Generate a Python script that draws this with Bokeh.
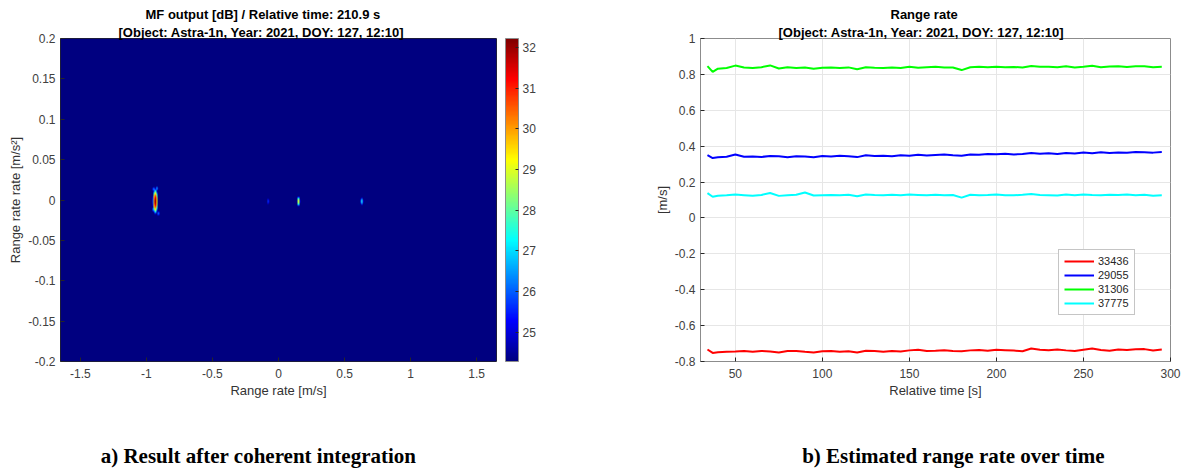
import numpy as np
from bokeh.plotting import figure
from bokeh.models import (LinearColorMapper, ColorBar, FixedTicker, Title, Legend,
                          LegendItem, CustomJSTickFormatter, Range1d)
from bokeh.core.properties import value
from bokeh.layouts import row, column
from bokeh.embed import file_html
from bokeh.resources import INLINE

# ---------------- data: left panel (matched-filter output peaks) ----------------
bg_db = 24.3
peak_rr = [-0.935, -0.947, -0.923, -0.950, -0.912, -0.080, 0.150, 0.630]      # range rate [m/s]
peak_rrr = [-0.002, 0.013, 0.014, -0.012, -0.017, -0.002, -0.002, -0.002]    # range rate rate [m/s^2]
peak_db = [32.2, 26.6, 26.8, 26.4, 26.3, 25.8, 29.3, 27.6]
peak_wx = [0.020, 0.009, 0.009, 0.009, 0.009, 0.008, 0.012, 0.010]
peak_wy = [0.0165, 0.0031, 0.0031, 0.0031, 0.0031, 0.004, 0.0065, 0.005]
cb_ticks = [25, 26, 27, 28, 29, 30, 31, 32]
x1_ticks = [-1.5, -1, -0.5, 0, 0.5, 1, 1.5]
y1_ticks = [-0.2, -0.15, -0.1, -0.05, 0, 0.05, 0.1, 0.15, 0.2]

# ---------------- data: right panel (estimated range rate) ----------------
t = [34, 37, 40, 45, 50, 55, 60, 65, 70, 75, 80, 85, 90, 95, 100, 105, 110, 115, 120, 125,
     130, 135, 140, 145, 150, 155, 160, 165, 170, 175, 180, 185, 190, 195, 200, 205, 210,
     215, 220, 225, 230, 235, 240, 245, 250, 255, 260, 265, 270, 275, 280, 285, 290, 295]
rr_33436 = [-0.733, -0.752, -0.748, -0.745, -0.744, -0.742, -0.746, -0.741, -0.744, -0.750,
            -0.742, -0.741, -0.746, -0.750, -0.743, -0.742, -0.745, -0.743, -0.750, -0.740,
            -0.742, -0.745, -0.741, -0.744, -0.738, -0.735, -0.742, -0.740, -0.737, -0.741,
            -0.743, -0.738, -0.736, -0.740, -0.735, -0.737, -0.739, -0.743, -0.728, -0.734,
            -0.737, -0.733, -0.738, -0.742, -0.735, -0.728, -0.736, -0.740, -0.733, -0.736,
            -0.732, -0.731, -0.739, -0.733]
rr_29055 = [0.350, 0.334, 0.338, 0.341, 0.354, 0.341, 0.343, 0.340, 0.345, 0.344,
            0.338, 0.344, 0.342, 0.338, 0.345, 0.343, 0.346, 0.344, 0.339, 0.349,
            0.345, 0.347, 0.344, 0.349, 0.346, 0.352, 0.348, 0.351, 0.353, 0.349,
            0.347, 0.354, 0.352, 0.356, 0.355, 0.358, 0.354, 0.356, 0.362, 0.358,
            0.360, 0.356, 0.362, 0.359, 0.365, 0.360, 0.366, 0.362, 0.365, 0.363,
            0.368, 0.366, 0.364, 0.367]
rr_31306 = [0.846, 0.814, 0.832, 0.836, 0.849, 0.838, 0.836, 0.840, 0.850, 0.833,
            0.840, 0.835, 0.839, 0.832, 0.837, 0.838, 0.836, 0.839, 0.829, 0.840,
            0.837, 0.835, 0.839, 0.836, 0.843, 0.837, 0.840, 0.842, 0.839, 0.838,
            0.824, 0.840, 0.842, 0.840, 0.842, 0.840, 0.841, 0.839, 0.847, 0.842,
            0.843, 0.840, 0.845, 0.839, 0.842, 0.848, 0.840, 0.844, 0.846, 0.841,
            0.845, 0.846, 0.840, 0.843]
rr_37775 = [0.138, 0.118, 0.124, 0.126, 0.130, 0.127, 0.124, 0.128, 0.139, 0.123,
            0.127, 0.129, 0.142, 0.125, 0.127, 0.128, 0.126, 0.129, 0.121, 0.131,
            0.128, 0.126, 0.129, 0.127, 0.130, 0.128, 0.126, 0.129, 0.127, 0.128,
            0.113, 0.129, 0.127, 0.128, 0.130, 0.127, 0.126, 0.129, 0.133, 0.128,
            0.127, 0.125, 0.130, 0.127, 0.131, 0.128, 0.126, 0.129, 0.128, 0.130,
            0.127, 0.129, 0.124, 0.126]
series_names = ["33436", "29055", "31306", "37775"]
series_vals = [rr_33436, rr_29055, rr_31306, rr_37775]
series_colors = ["#ff0000", "#0000ff", "#00ff00", "#00ffff"]
x2_ticks = [50, 100, 150, 200, 250, 300]
y2_ticks = [-0.8, -0.6, -0.4, -0.2, 0, 0.2, 0.4, 0.6, 0.8, 1]
captions = ["a) Result after coherent integration", "b) Estimated range rate over time"]

FONT = "Liberation Sans"
TICK_COLOR = "#404040"
BOX_COLOR = "#8c8c8c"
PLOT_H = 422
CAP_H = 50


def jet(n=256):
    cols = []
    for i in range(n):
        x = i / (n - 1)
        r = min(max(1.5 - abs(4 * x - 3), 0), 1)
        g = min(max(1.5 - abs(4 * x - 2), 0), 1)
        b = min(max(1.5 - abs(4 * x - 1), 0), 1)
        cols.append("#%02x%02x%02x" % (int(r * 255 + .5), int(g * 255 + .5), int(b * 255 + .5)))
    return cols


fmt_code = "return String(Math.round(tick*1000)/1000);"


def style_axes(p, xt, yt, xlabel, ylabel):
    p.xaxis.ticker = FixedTicker(ticks=xt)
    p.yaxis.ticker = FixedTicker(ticks=yt)
    for ax in (p.xaxis[0], p.yaxis[0]):
        ax.formatter = CustomJSTickFormatter(code=fmt_code)
        ax.axis_line_color = None
        ax.major_tick_in = 4
        ax.major_tick_out = 0
        ax.minor_tick_line_color = None
        ax.major_tick_line_color = "#262626"
        ax.major_label_text_font = FONT
        ax.major_label_text_font_size = "12px"
        ax.major_label_text_color = TICK_COLOR
        ax.axis_label_text_font = FONT
        ax.axis_label_text_font_size = "13px"
        ax.axis_label_text_font_style = "normal"
        ax.axis_label_text_color = "#333333"
    p.xaxis.axis_label = xlabel
    p.yaxis.axis_label = ylabel
    p.xaxis.major_label_standoff = 7
    p.yaxis.major_label_standoff = 5
    p.xaxis.axis_label_standoff = 2
    p.yaxis.axis_label_standoff = 2


def add_titles(p, line1, line2, off1, off2):
    p.add_layout(Title(text=line2, align="left", offset=off2, text_font=FONT,
                       text_font_size="13px", text_font_style="bold",
                       text_color="#000000", standoff=-2), "above")
    p.add_layout(Title(text=line1, align="left", offset=off1, text_font=FONT,
                       text_font_size="13px", text_font_style="bold",
                       text_color="#000000", standoff=3), "above")


def caption_fig(text, cx):
    c = figure(width=592, height=CAP_H, x_range=Range1d(0, 592), y_range=Range1d(0, CAP_H),
               output_backend="svg", toolbar_location=None, x_axis_type=None, y_axis_type=None,
               min_border=0, min_border_left=0, min_border_right=0, min_border_top=0,
               min_border_bottom=0)
    c.title.text = ""
    c.grid.visible = False
    c.outline_line_color = None
    c.text(x=[cx], y=[17], text=[text], text_align="center", text_baseline="middle",
           text_font=value("Liberation Serif"), text_font_size="21px",
           text_font_style="bold", text_color="#000000")
    return c


# ---------------- left figure ----------------
X0, X1, Y0, Y1 = -1.65, 1.65, -0.2, 0.2
NX, NY = 872, 646
xs = np.linspace(X0, X1, NX)
ys = np.linspace(Y0, Y1, NY)
XX, YY = np.meshgrid(xs, ys)
img = np.full(XX.shape, bg_db)
for px, py, pk, wx, wy in zip(peak_rr, peak_rrr, peak_db, peak_wx, peak_wy):
    v = pk - (pk - bg_db) * (((XX - px) / wx) ** 2 + ((YY - py) / wy) ** 2)
    img = np.maximum(img, v)
img = img.astype(np.float32)

mapper = LinearColorMapper(palette=jet(256), low=24.28, high=32.22)

p1 = figure(width=592, height=PLOT_H, x_range=Range1d(X0, X1), y_range=Range1d(Y0, Y1),
            output_backend="svg", toolbar_location=None,
            min_border_left=60, min_border_right=96, min_border_top=38, min_border_bottom=61)
p1.title.text = ""
p1.image(image=[img], x=X0, y=Y0, dw=X1 - X0, dh=Y1 - Y0, color_mapper=mapper)
p1.grid.visible = False
p1.outline_line_color = "#262626"
p1.outline_line_width = 1
p1.background_fill_color = "white"
style_axes(p1, x1_ticks, y1_ticks, "Range rate [m/s]", "Range rate rate [m/s\u00b2]")
add_titles(p1, "MF output [dB] / Relative time: 210.9 s",
           "[Object: Astra-1n, Year: 2021, DOY: 127, 12:10]", 85, 58)

cb = ColorBar(color_mapper=mapper, ticker=FixedTicker(ticks=cb_ticks), width=13, height=323,
              padding=0, margin=0, location=(9, 0), major_tick_in=3, major_tick_out=0,
              major_tick_line_color="#262626", label_standoff=4,
              major_label_text_font=FONT, major_label_text_font_size="12px",
              major_label_text_color=TICK_COLOR, bar_line_color=BOX_COLOR,
              border_line_color=None, background_fill_alpha=0)
p1.add_layout(cb, "right")

# ---------------- right figure ----------------
p2 = figure(width=592, height=PLOT_H, x_range=Range1d(30, 300), y_range=Range1d(-0.8, 1),
            output_backend="svg", toolbar_location=None,
            min_border_left=108, min_border_right=14, min_border_top=38, min_border_bottom=60)
p2.title.text = ""
style_axes(p2, x2_ticks, y2_ticks, "Relative time [s]", "[m/s]")
p2.grid.grid_line_color = "#e6e6e6"
p2.outline_line_color = BOX_COLOR
p2.outline_line_width = 1
items = []
for name, vals, col in zip(series_names, series_vals, series_colors):
    r = p2.line(t, vals, line_color=col, line_width=2)
    items.append(LegendItem(label=name, renderers=[r]))
leg = Legend(items=items, location=(358, 46), label_text_font=FONT, label_text_font_size="11px",
             label_text_color="#262626", glyph_width=30, glyph_height=12, label_height=12,
             label_standoff=4, spacing=2, padding=5, margin=0, border_line_color=BOX_COLOR,
             background_fill_color="white", background_fill_alpha=1)
p2.add_layout(leg, "center")
add_titles(p2, "Range rate", "[Object: Astra-1n, Year: 2021, DOY: 127, 12:10]", 190, 78)

c1 = caption_fig(captions[0], 258)
c2 = caption_fig(captions[1], 953 - 592)

layout = column(row(p1, p2), row(c1, c2))
open("out.html", "w").write(file_html(layout, INLINE))
